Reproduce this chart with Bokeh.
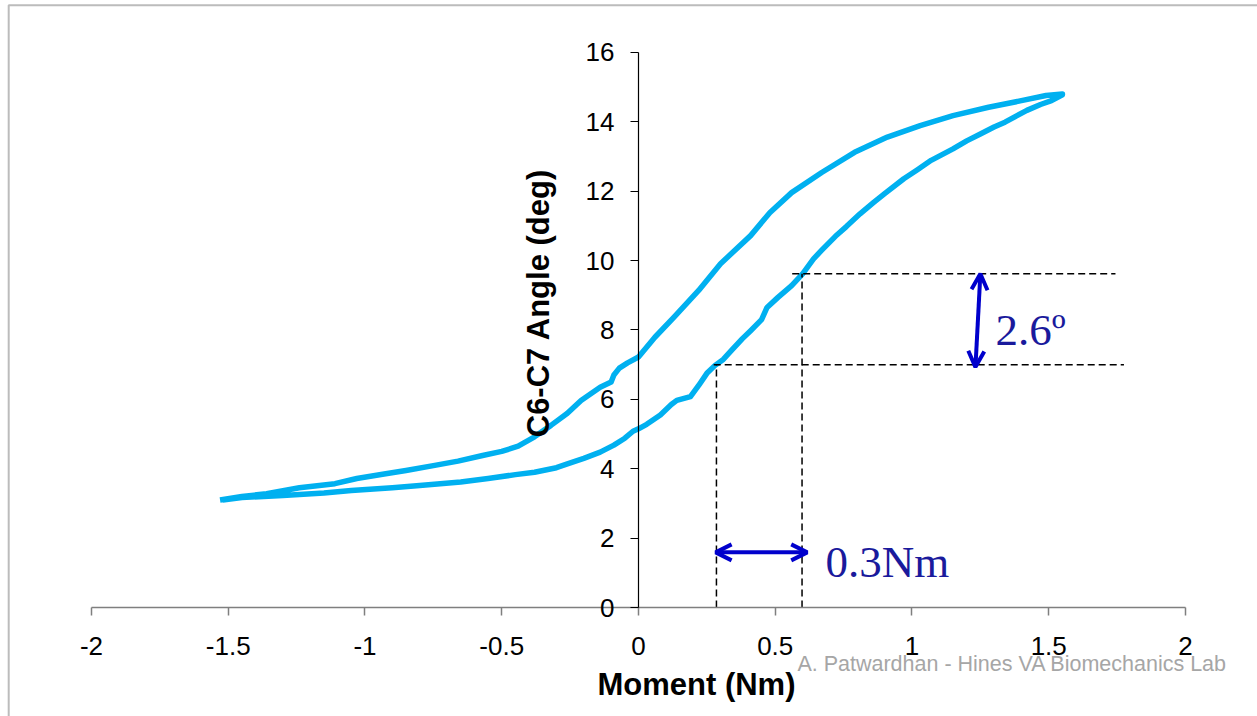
import math
from bokeh.plotting import figure
from bokeh.models import Range1d, Label, Arrow, OpenHead, PolyAnnotation, FixedTicker
from bokeh.embed import file_html
from bokeh.resources import INLINE

# ---- data ----
x_ticks = [-2, -1.5, -1, -0.5, 0, 0.5, 1, 1.5, 2]
x_tick_labels = ["-2", "-1.5", "-1", "-0.5", "0", "0.5", "1", "1.5", "2"]
y_ticks = [0, 2, 4, 6, 8, 10, 12, 14, 16]
y_tick_labels = ["0", "2", "4", "6", "8", "10", "12", "14", "16"]

# loading branch (lower), moment increasing
load_moment = [-1.52, -1.45, -1.30, -1.15, -1.05, -0.90, -0.80, -0.65, -0.55, -0.45,
               -0.38, -0.30, -0.26, -0.20, -0.14, -0.09, -0.05, -0.02, 0.00, 0.03,
               0.08, 0.12, 0.14, 0.19, 0.22, 0.25, 0.28, 0.31, 0.34, 0.38,
               0.41, 0.45, 0.47, 0.51, 0.56, 0.60, 0.64, 0.67, 0.72, 0.76,
               0.81, 0.86, 0.90, 0.97, 1.02, 1.07, 1.15, 1.20, 1.25, 1.30,
               1.34, 1.42, 1.47, 1.51, 1.55]
load_angle = [3.10, 3.17, 3.23, 3.30, 3.37, 3.45, 3.52, 3.62, 3.72, 3.83,
              3.90, 4.03, 4.14, 4.30, 4.48, 4.68, 4.88, 5.08, 5.15, 5.28,
              5.55, 5.85, 5.97, 6.08, 6.40, 6.75, 6.98, 7.15, 7.41, 7.75,
              7.98, 8.30, 8.65, 8.94, 9.28, 9.62, 10.05, 10.30, 10.70, 10.98,
              11.35, 11.68, 11.93, 12.36, 12.62, 12.89, 13.22, 13.45, 13.65, 13.85,
              13.99, 14.33, 14.50, 14.61, 14.78]
# unloading branch (upper), moment decreasing
unload_moment = [1.55, 1.49, 1.40, 1.28, 1.15, 1.03, 0.91, 0.79, 0.67, 0.56,
                 0.48, 0.41, 0.30, 0.22, 0.13, 0.06, 0.00, -0.04, -0.07, -0.09,
                 -0.10, -0.14, -0.21, -0.26, -0.32, -0.38, -0.44, -0.50, -0.57, -0.66,
                 -0.75, -0.85, -0.93, -1.03, -1.11, -1.24, -1.36, -1.45, -1.53]
unload_angle = [14.80, 14.76, 14.61, 14.42, 14.18, 13.89, 13.56, 13.12, 12.54, 11.96,
                11.38, 10.72, 9.91, 9.14, 8.37, 7.79, 7.22, 7.05, 6.90, 6.70,
                6.50, 6.35, 5.97, 5.60, 5.25, 4.92, 4.65, 4.50, 4.38, 4.22,
                4.09, 3.95, 3.85, 3.72, 3.57, 3.45, 3.28, 3.20, 3.10]

# dashed guide lines (x0, y0, x1, y1)
guide_x0 = [0.285, 0.598, 0.562, 0.275]
guide_y0 = [0.0, 0.0, 9.62, 7.00]
guide_x1 = [0.285, 0.598, 1.744, 1.775]
guide_y1 = [7.00, 9.62, 9.62, 7.00]

moment = load_moment + unload_moment
angle = load_angle + unload_angle

# ---- figure: frame covers the whole page, axes drawn at fixed locations ----
p = figure(frame_width=1257, frame_height=716,
           min_border_left=0, min_border_right=0, min_border_top=0, min_border_bottom=0,
           x_range=Range1d(-2.3327, 2.2633), y_range=Range1d(-3.1421, 17.4978),
           output_backend="svg", toolbar_location=None)
p.grid.visible = False
p.outline_line_color = None
p.background_fill_color = "white"
p.border_fill_color = "white"

tick_font = "Liberation Sans"

p.xaxis.fixed_location = 0
p.xaxis.bounds = (-2, 2)
p.xaxis.ticker = FixedTicker(ticks=x_ticks)
p.xaxis.major_label_overrides = {t: l for t, l in zip(x_ticks, x_tick_labels)}
p.xaxis.axis_line_color = "#7f7f7f"
p.xaxis.axis_line_width = 1.5
p.xaxis.major_tick_line_color = "#7f7f7f"
p.xaxis.major_tick_line_width = 1.5
p.xaxis.major_tick_in = 0
p.xaxis.major_tick_out = 8
p.xaxis.minor_tick_line_color = None
p.xaxis.major_label_text_font = tick_font
p.xaxis.major_label_text_font_size = "26px"
p.xaxis.major_label_text_color = "black"
p.xaxis.major_label_standoff = 21

p.yaxis.fixed_location = 0
p.yaxis.bounds = (0, 16)
p.yaxis.ticker = FixedTicker(ticks=y_ticks)
p.yaxis.major_label_overrides = {t: l for t, l in zip(y_ticks, y_tick_labels)}
p.yaxis.axis_line_color = "black"
p.yaxis.axis_line_width = 1.2
p.yaxis.major_tick_line_color = "black"
p.yaxis.major_tick_line_width = 1.2
p.yaxis.major_tick_in = 0
p.yaxis.major_tick_out = 8
p.yaxis.minor_tick_line_color = None
p.yaxis.major_label_text_font = tick_font
p.yaxis.major_label_text_font_size = "26px"
p.yaxis.major_label_text_color = "black"
p.yaxis.major_label_standoff = 16
p.yaxis.major_label_orientation = "horizontal"

# outer slide border (left & top visible)
p.add_layout(PolyAnnotation(xs=[-2.3027, -2.3027, 2.6, 2.6], ys=[-4.0, 17.36, 17.36, -4.0],
                            line_color="#222222", line_width=2, fill_alpha=0))

# data curve
p.line(moment, angle, line_color="#00B0F0", line_width=5.5, line_join="round")

# guides
p.segment(guide_x0, guide_y0, guide_x1, guide_y1, line_color="black",
          line_width=1.5, line_dash="7 4")

arrow_color = "#0000CC"
p.add_layout(Arrow(x_start=1.25, y_start=9.62, x_end=1.232, y_end=6.93,
                   line_color=arrow_color, line_width=4,
                   start=OpenHead(size=16, line_color=arrow_color, line_width=4),
                   end=OpenHead(size=16, line_color=arrow_color, line_width=4)))
p.add_layout(Arrow(x_start=0.282, y_start=1.59, x_end=0.617, y_end=1.59,
                   line_color=arrow_color, line_width=4,
                   start=OpenHead(size=16, line_color=arrow_color, line_width=4),
                   end=OpenHead(size=16, line_color=arrow_color, line_width=4)))

ann_color = "#1a1a9c"
p.add_layout(Label(x=1.305, y=8.0, text="2.6º", text_font="Liberation Serif",
                   text_font_size="45px", text_color=ann_color,
                   text_align="left", text_baseline="middle"))
p.add_layout(Label(x=0.684, y=1.30, text="0.3Nm", text_font="Liberation Serif",
                   text_font_size="45px", text_color=ann_color,
                   text_align="left", text_baseline="middle"))

# axis titles
p.add_layout(Label(x=0.212, y=-2.22, text="Moment (Nm)", text_font=tick_font,
                   text_font_style="bold", text_font_size="31px", text_color="black",
                   text_align="center", text_baseline="middle"))
p.add_layout(Label(x=-0.366, y=8.78, text="C6-C7 Angle (deg)", text_font=tick_font,
                   text_font_style="bold", text_font_size="31px", text_color="black",
                   text_align="center", text_baseline="middle", angle=math.pi / 2))

# watermark
p.add_layout(Label(x=0.581, y=-1.64, text="A. Patwardhan - Hines VA Biomechanics Lab",
                   text_font=tick_font, text_font_size="21.5px", text_color="#a6a6a6",
                   text_align="left", text_baseline="middle"))

open("out.html", "w").write(file_html(p, INLINE))
